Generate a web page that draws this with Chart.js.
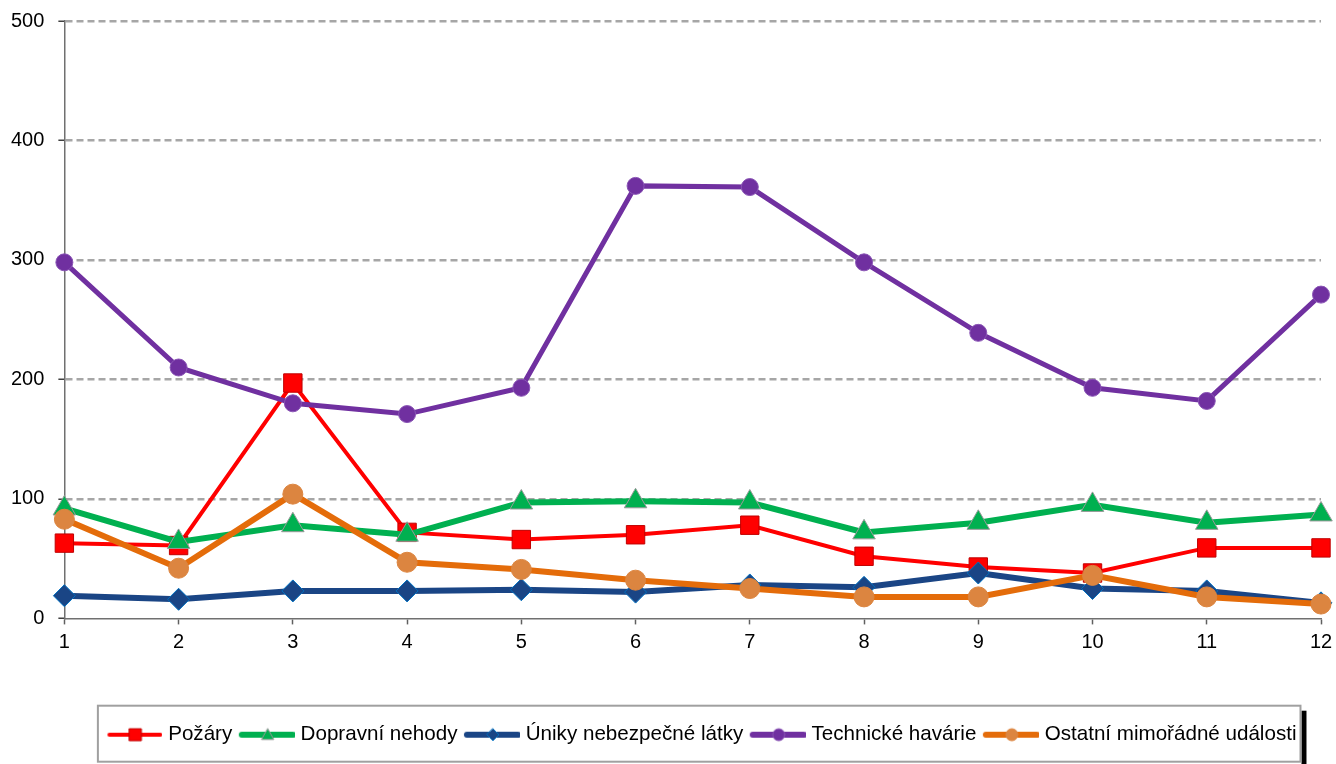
<!DOCTYPE html>
<html>
<head>
<meta charset="utf-8">
<script src="https://cdn.jsdelivr.net/npm/chart.js@4/dist/chart.umd.min.js"></script>
<style>
	body { margin: 0; background: #fff; }
</style>
</head>
<body>
<canvas id="myChart" width="1336" height="764"></canvas>
<script>
const months = ["1", "2", "3", "4", "5", "6", "7", "8", "9", "10", "11", "12"];

const pozary = [63, 61, 197, 72, 66, 70, 78, 52, 43, 38, 59, 59];
const dopravniNehody = [92, 64, 78, 70, 97, 98, 97, 72, 80, 95, 80, 87];
const unikyLatky = [19, 16, 23, 23, 24, 22, 28, 26, 38, 25, 23, 13];
const technickeHavarie = [298, 210, 180, 171, 193, 362, 361, 298, 239, 193, 182, 271];
const ostatniUdalosti = [83, 42, 104, 47, 41, 32, 25, 18, 18, 36, 18, 12];

const seriesNames = [
	"Požáry",
	"Dopravní nehody",
	"Úniky nebezpečné látky",
	"Technické havárie",
	"Ostatní mimořádné události",
];

const yTicks = [0, 100, 200, 300, 400, 500];

const fontFamily = "'Liberation Sans', Arial, sans-serif";

// small line + marker pictures for the legend
function makeIcon(lineColor, lineWidth, shape, fill, border, s) {
	const c = document.createElement("canvas");
	c.width = 58;
	c.height = 24;
	const g = c.getContext("2d");
	g.strokeStyle = lineColor;
	g.lineWidth = lineWidth;
	g.lineCap = "round";
	g.beginPath();
	g.moveTo(5, 12);
	g.lineTo(56, 12);
	g.stroke();

	const cx = 31, cy = 12;
	g.fillStyle = fill;
	g.strokeStyle = border;
	g.lineWidth = 1;
	g.beginPath();
	if (shape === "rect") {
		g.rect(cx - s, cy - s, 2 * s, 2 * s);
	} else if (shape === "triangle") {
		g.moveTo(cx, cy - s);
		g.lineTo(cx + s, cy + s * 0.8);
		g.lineTo(cx - s, cy + s * 0.8);
		g.closePath();
	} else if (shape === "rectRot") {
		g.moveTo(cx, cy - s);
		g.lineTo(cx + s, cy);
		g.lineTo(cx, cy + s);
		g.lineTo(cx - s, cy);
		g.closePath();
	} else {
		g.arc(cx, cy, s, 0, Math.PI * 2);
	}
	g.fill();
	g.stroke();
	return c;
}

const icons = [
	makeIcon("#ff0000", 4, "rect", "#ff0000", "#c00000", 6),
	makeIcon("#00b050", 6, "triangle", "#00b050", "#999999", 6),
	makeIcon("#1a4585", 6, "rectRot", "#1a4585", "#0070c0", 6),
	makeIcon("#7030a0", 6, "circle", "#7030a0", "#8a55b5", 6),
	makeIcon("#e46c0a", 6, "circle", "#dc8540", "#dc8540", 6),
];

const legendBox = {
	id: "legendBox",
	afterLayout(chart) {
		// nudge the legend a bit to the right, as in the original
		chart.legend.left += 10;
		chart.legend.right += 10;
	},
	afterDraw(chart) {
		const hb = chart.legend.legendHitBoxes;
		if (!hb || !hb.length) return;
		const last = hb[hb.length - 1];
		const x0 = hb[0].left - 11;
		const x1 = last.left + last.width + 4;
		const cy = hb[0].top + hb[0].height / 2;
		const ctx = chart.ctx;
		ctx.save();
		ctx.fillStyle = "#000";
		ctx.fillRect(x1 + 1, cy - 24, 5, 60);
		ctx.strokeStyle = "#a0a0a0";
		ctx.lineWidth = 2;
		ctx.strokeRect(x0, cy - 29, x1 - x0, 56);
		ctx.restore();
	},
};

function lineSet(label, data, color, width, shape, fill, border, radius, order) {
	return {
		label: label,
		data: data,
		borderColor: color,
		borderWidth: width,
		pointStyle: shape,
		pointRadius: radius,
		pointHoverRadius: radius,
		pointBackgroundColor: fill,
		pointBorderColor: border,
		pointBorderWidth: 1,
		tension: 0,
		order: order,
	};
}

const ctx = document.getElementById("myChart").getContext("2d");

const myChart = new Chart(ctx, {
	type: "line",
	data: {
		labels: months,
		datasets: [
			lineSet(seriesNames[0], pozary, "#ff0000", 4, "rect", "#ff0000", "#c00000", 13, 5),
			lineSet(seriesNames[1], dopravniNehody, "#00b050", 6, "triangle", "#00b050", "#999999", 13, 4),
			lineSet(seriesNames[2], unikyLatky, "#1a4585", 6, "rectRot", "#1a4585", "#0070c0", 11, 3),
			lineSet(seriesNames[3], technickeHavarie, "#7030a0", 5, "circle", "#7030a0", "#8a55b5", 8.5, 2),
			lineSet(seriesNames[4], ostatniUdalosti, "#e46c0a", 6, "circle", "#dc8540", "#dc8540", 10, 1),
		],
	},
	options: {
		responsive: false,
		animation: false,
		layout: {
			padding: { top: 21, right: 15, left: 10, bottom: 9 },
		},
		plugins: {
			tooltip: { enabled: false },
			legend: {
				position: "bottom",
				fullSize: false,
				labels: {
					usePointStyle: true,
					pointStyleWidth: 49,
					boxHeight: 20,
					padding: 9,
					color: "#000",
					font: { size: 20.6, family: fontFamily },
					generateLabels: (chart) =>
						chart.data.datasets.map((ds, i) => ({
							text: ds.label,
							pointStyle: icons[i],
							datasetIndex: i,
							fontColor: "#000",
							hidden: false,
							lineWidth: 0,
							strokeStyle: "rgba(0,0,0,0)",
							fillStyle: "rgba(0,0,0,0)",
						})),
				},
			},
		},
		scales: {
			x: {
				offset: false,
				grid: {
					drawOnChartArea: false,
					drawTicks: true,
					tickLength: 6,
					tickColor: "#606060",
					tickWidth: 1.5,
				},
				border: { color: "#707070", width: 1.5 },
				ticks: {
					color: "#000",
					padding: 6,
					maxRotation: 0,
					font: { size: 20, family: fontFamily },
				},
				afterFit: (scale) => {
					scale.height += 55;
					scale.paddingLeft = 0;
					scale.paddingRight = 0;
				},
			},
			y: {
				min: 0,
				max: 500,
				afterBuildTicks: (scale) => {
					scale.ticks = yTicks.map((v) => ({ value: v }));
				},
				afterFit: (scale) => {
					scale.width -= 13;
					scale.paddingTop = 0;
					scale.paddingBottom = 0;
				},
				grid: {
					color: (c) => (c.tick && c.tick.value === 0 ? "rgba(0,0,0,0)" : "#a6a6a6"),
					lineWidth: 2.5,
					drawTicks: true,
					tickLength: 6,
					tickColor: "#404040",
					tickWidth: 1.5,
				},
				border: { color: "#707070", width: 1.5, dash: [7, 4] },
				ticks: {
					color: "#000",
					padding: 14,
					font: { size: 20, family: fontFamily },
				},
			},
		},
	},
	plugins: [legendBox],
});
</script>
</body>
</html>
